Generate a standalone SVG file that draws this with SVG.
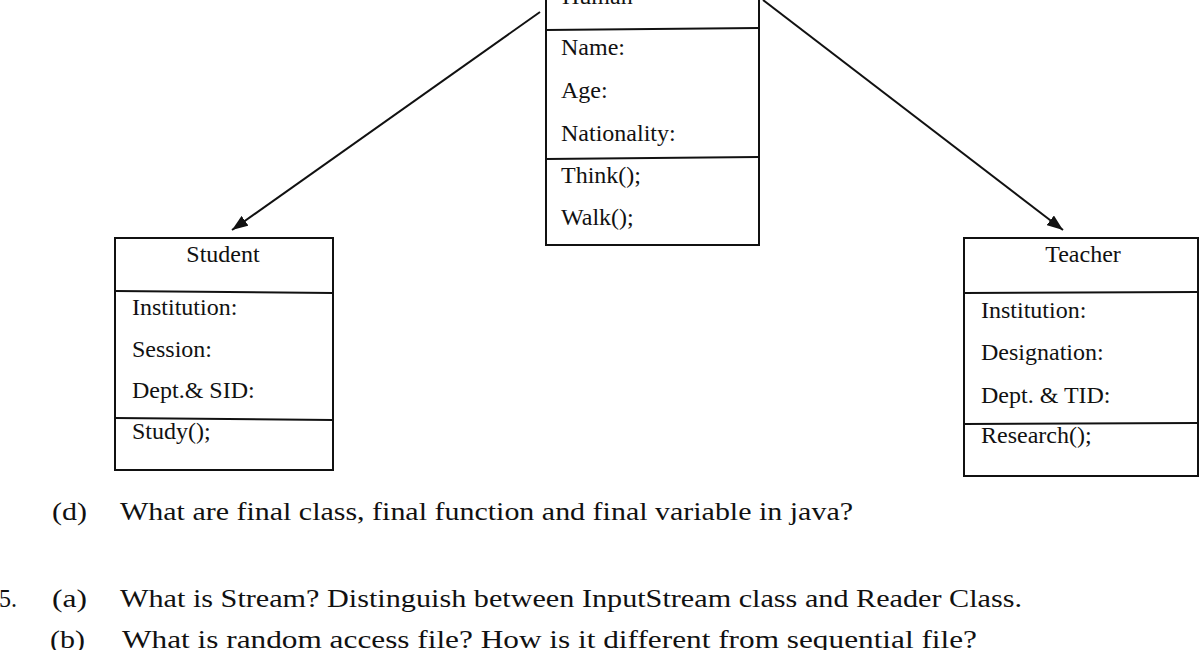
<svg xmlns="http://www.w3.org/2000/svg" width="1200" height="650" viewBox="0 0 1200 650">
<style>
.box{fill:none;stroke:#111;stroke-width:2}
.t{font-family:"Liberation Serif","Times New Roman",serif;font-size:24px;fill:#111}
.q{font-family:"Liberation Serif","Times New Roman",serif;font-size:25px;fill:#111}
.c{text-anchor:middle}
.conn{stroke:#111;stroke-width:2;fill:none}
</style>
<defs>
<marker id="arr" viewBox="0 0 16 12" refX="16" refY="6" markerWidth="16" markerHeight="12" markerUnits="userSpaceOnUse" orient="auto">
<path d="M0,0 L16,6 L0,12 Z" fill="#111"/>
</marker>
</defs>
<rect width="1200" height="650" fill="#fff"/>
<g id="connectors">
<line class="conn" x1="540" y1="12" x2="232" y2="230" marker-end="url(#arr)"/>
<line class="conn" x1="763" y1="0" x2="1063" y2="230" marker-end="url(#arr)"/>
</g>
<g id="human">
<rect class="box" x="546" y="-10" width="213" height="255"/>
<line class="box" x1="546" y1="30" x2="759" y2="28"/>
<line class="box" x1="546" y1="159" x2="759" y2="157"/>
<text class="t" x="562" y="4">Human</text>
<text class="t" x="561" y="55">Name:</text>
<text class="t" x="561" y="98">Age:</text>
<text class="t" x="561" y="141">Nationality:</text>
<text class="t" x="561" y="183">Think();</text>
<text class="t" x="561" y="225">Walk();</text>
</g>
<g id="student">
<rect class="box" x="115" y="238" width="218" height="232"/>
<line class="box" x1="115" y1="291" x2="333" y2="293"/>
<line class="box" x1="115" y1="418" x2="333" y2="420"/>
<text class="t c" x="223" y="262">Student</text>
<text class="t" x="132" y="315">Institution:</text>
<text class="t" x="132" y="357">Session:</text>
<text class="t" x="132" y="398">Dept.&amp; SID:</text>
<text class="t" x="132" y="439">Study();</text>
</g>
<g id="teacher">
<rect class="box" x="964" y="238" width="234" height="238"/>
<line class="box" x1="964" y1="293" x2="1198" y2="292"/>
<line class="box" x1="964" y1="424" x2="1198" y2="423"/>
<text class="t c" x="1083" y="262">Teacher</text>
<text class="t" x="981" y="318">Institution:</text>
<text class="t" x="981" y="360">Designation:</text>
<text class="t" x="981" y="403">Dept. &amp; TID:</text>
<text class="t" x="981" y="443">Research();</text>
</g>
<g id="questions">
<text class="q" x="52" y="520" textLength="35" lengthAdjust="spacingAndGlyphs">(d)</text>
<text class="q" x="120" y="520" textLength="733" lengthAdjust="spacingAndGlyphs">What are final class, final function and final variable in java?</text>
<text class="q" x="-1" y="607" textLength="18" lengthAdjust="spacingAndGlyphs">5.</text>
<text class="q" x="52" y="607" textLength="35" lengthAdjust="spacingAndGlyphs">(a)</text>
<text class="q" x="120" y="607" textLength="902" lengthAdjust="spacingAndGlyphs">What is Stream? Distinguish between InputStream class and Reader Class.</text>
<text class="q" x="50" y="648" textLength="35" lengthAdjust="spacingAndGlyphs">(b)</text>
<text class="q" x="122" y="648" textLength="855" lengthAdjust="spacingAndGlyphs">What is random access file? How is it different from sequential file?</text>
</g>
</svg>
